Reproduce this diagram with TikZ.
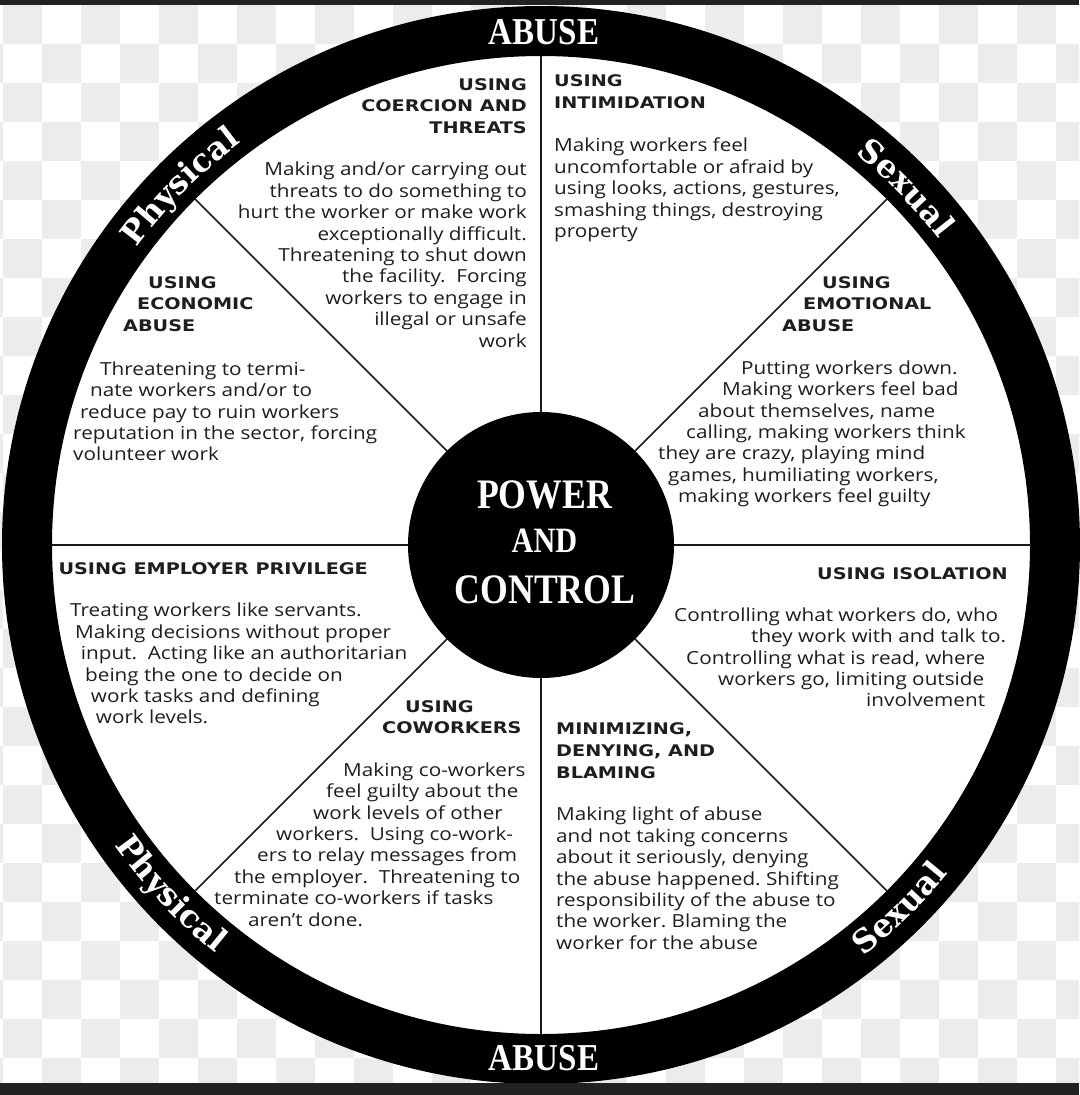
\documentclass[tikz,border=0pt]{standalone}
\usepackage{fontspec}
\usepackage{graphicx}
\setmainfont{Open Sans}[FakeStretch=1.15]
\newfontfamily\hdfont{DejaVu Sans}[FakeStretch=1.2]
\newfontfamily\rfont{DejaVu Serif}
\newfontfamily\pcfont{Liberation Serif}[FakeStretch=0.85]
\newfontfamily\abfont{Liberation Serif}[FakeStretch=0.87]
\usetikzlibrary{decorations.text}
\definecolor{txt}{HTML}{1E1E1E}
\definecolor{chk}{HTML}{ECECEC}
\definecolor{strip}{HTML}{222222}
\newcommand\topstrut{\rule{0pt}{14pt}}
\newcommand\hdstyle{\hdfont\bfseries\fontsize{16}{21.7}\selectfont}
\newcommand\bdstyle{\normalfont\fontsize{18}{21.4}\selectfont\frenchspacing}
\newcommand\ringstyle{\rfont\bfseries\fontsize{32}{36}\selectfont}
\begin{document}
\begin{tikzpicture}[x=1pt,y=1pt,
  hd/.style={inner sep=0pt, font=\hdstyle, text=txt},
  bd/.style={inner sep=0pt, font=\bdstyle, text=txt},
  spoke/.style={line width=1.6pt, draw=black!90},
  ringtext/.style={decorate, decoration={text along path, text={|\ringstyle|#1}, text align=center, text color=white}}]
\useasboundingbox (0,0) rectangle (1079,-1095);
% background checkerboard
\begin{scope}
\clip (0,-5) rectangle (1079,-1083);
\fill[white] (0,-5) rectangle (1079,-1083);
\foreach \i in {-1,...,27}{\foreach \j in {0,...,27}{
  \pgfmathtruncatemacro\s{mod(\i+\j+2,2)}
  \ifnum\s=0 \fill[chk] ({3+39*\i},{-5-39*\j}) rectangle ++(39,-39);\fi}}
\end{scope}
% wheel
\coordinate (c) at (541,-545);
\fill[white] (c) circle[radius=489];
\draw[line width=50pt] (c) circle[radius=514];
\foreach \a in {0,45,...,315} \draw[spoke] (c) -- ++(\a:489.5);
\node[circle, fill=black, minimum size=266pt, inner sep=0pt] (hub) at (c) {};
\node[text=white, font=\pcfont\bfseries\fontsize{42}{42}\selectfont, anchor=base, inner sep=0pt] (pw) at (544.5,-508) {POWER};
\node[text=white, font=\pcfont\bfseries\fontsize{35.6}{36}\selectfont, anchor=base, inner sep=0pt] (and) at (544.5,-552) {AND};
\node[text=white, font=\pcfont\bfseries\fontsize{42}{42}\selectfont, anchor=base, inner sep=0pt] (ctl) at (545,-603) {CONTROL};
% ring labels
\node[text=white, font=\abfont\bfseries\fontsize{38}{38}\selectfont, anchor=base, inner sep=0pt] (abt) at (544,-44.5) {ABUSE};
\node[text=white, font=\abfont\bfseries\fontsize{38}{38}\selectfont, anchor=base, inner sep=0pt] (abb) at (544,-1070.5) {ABUSE};
\path[ringtext=Physical] (c) ++(160.2:502) arc[start angle=160.2, end angle=110.2, radius=502];
\path[ringtext=Sexual] (c) ++(69.4:502) arc[start angle=69.4, end angle=19.4, radius=502];
\path[ringtext=Physical] (c) ++(198.3:522) arc[start angle=198.3, end angle=248.3, radius=522];
\path[ringtext=Sexual] (c) ++(-70.4:523) arc[start angle=-70.4, end angle=-20.4, radius=523];
% 1 coercion
\node[hd, align=right, anchor=north east] (h1) at (527,-76) {\topstrut USING\\COERCION AND\\THREATS};
\node[bd, align=right, anchor=north east] (b1) at (527,-161.7) {\topstrut Making and/or carrying out\\threats to do something to\\hurt the worker or make work\\exceptionally difficult.\\Threatening to shut down\\the facility.\ \ Forcing\\workers to engage in\\illegal or unsafe\\work};
% 2 intimidation
\node[hd, align=left, anchor=north west] (h2) at (554,-72.7) {\topstrut USING\\INTIMIDATION};
\node[bd, align=left, anchor=north west] (b2) at (554,-137.7) {\topstrut Making workers feel\\uncomfortable or afraid by\\using looks, actions, gestures,\\smashing things, destroying\\property};
% 3 economic
\node[hd, align=left, anchor=north west] (h3) at (123,-274) {\topstrut\hspace*{25pt}USING\\\hspace*{14pt}ECONOMIC\\ABUSE};
\node[bd, align=left, anchor=north west] (b3) at (73,-361) {\topstrut\hspace*{27pt}Threatening to termi-\\\hspace*{17pt}nate workers and/or to\\\hspace*{7pt}reduce pay to ruin workers\\reputation in the sector, forcing\\volunteer work};
% 4 emotional
\node[hd, align=left, anchor=north west] (h4) at (782,-274) {\topstrut\hspace*{40pt}USING\\\hspace*{21pt}EMOTIONAL\\ABUSE};
\node[bd, align=left, anchor=north west] (b4) at (658,-360) {\topstrut\hspace*{83pt}Putting workers down.\\\hspace*{64pt}Making workers feel bad\\\hspace*{40pt}about themselves, name\\\hspace*{28pt}calling, making workers think\\they are crazy, playing mind\\\hspace*{10pt}games, humiliating workers,\\\hspace*{20pt}making workers feel guilty};
% 5 employer privilege
\node[hd, align=left, anchor=north west] (h5) at (58.3,-560) {\topstrut USING EMPLOYER PRIVILEGE};
\node[bd, align=left, anchor=north west] (b5) at (70,-602.7) {\topstrut Treating workers like servants.\\\hspace*{5pt}Making decisions without proper\\\hspace*{10.7pt}input.\ \ Acting like an authoritarian\\\hspace*{15pt}being the one to decide on\\\hspace*{20.7pt}work tasks and defining\\\hspace*{25.7pt}work levels.};
% 6 isolation
\node[hd, align=right, anchor=north east] (h6) at (1008,-565) {\topstrut USING ISOLATION};
\node[bd, align=left, anchor=north west] (b6) at (674,-607) {\topstrut Controlling what workers do, who\\\hspace*{77pt}they work with and talk to.\\\hspace*{12pt}Controlling what is read, where\\\hspace*{44pt}workers go, limiting outside\\\hspace*{192pt}involvement};
% 7 coworkers
\node[hd, align=left, anchor=north west] (h7) at (382,-698) {\topstrut\hspace*{23pt}USING\\COWORKERS};
\node[bd, align=left, anchor=north west] (b7) at (214,-762) {\topstrut\hspace*{129pt}Making co-workers\\\hspace*{112pt}feel guilty about the\\\hspace*{99pt}work levels of other\\\hspace*{62pt}workers.\ \ Using co-work-\\\hspace*{43pt}ers to relay messages from\\\hspace*{20pt}the employer.\ \ Threatening to\\terminate co-workers if tasks\\\hspace*{34pt}aren’t done.};
% 8 minimizing
\node[hd, align=left, anchor=north west] (h8) at (556,-720.4) {\topstrut MINIMIZING,\\DENYING, AND\\BLAMING};
\node[bd, align=left, anchor=north west] (b8) at (556,-806.7) {\topstrut Making light of abuse\\and not taking concerns\\about it seriously, denying\\the abuse happened. Shifting\\responsibility of the abuse to\\the worker. Blaming the\\worker for the abuse};
% dark strips
\fill[strip] (0,0) rectangle (1079,-5);
\fill[strip] (0,-1083) rectangle (1079,-1095);
\end{tikzpicture}
\end{document}
